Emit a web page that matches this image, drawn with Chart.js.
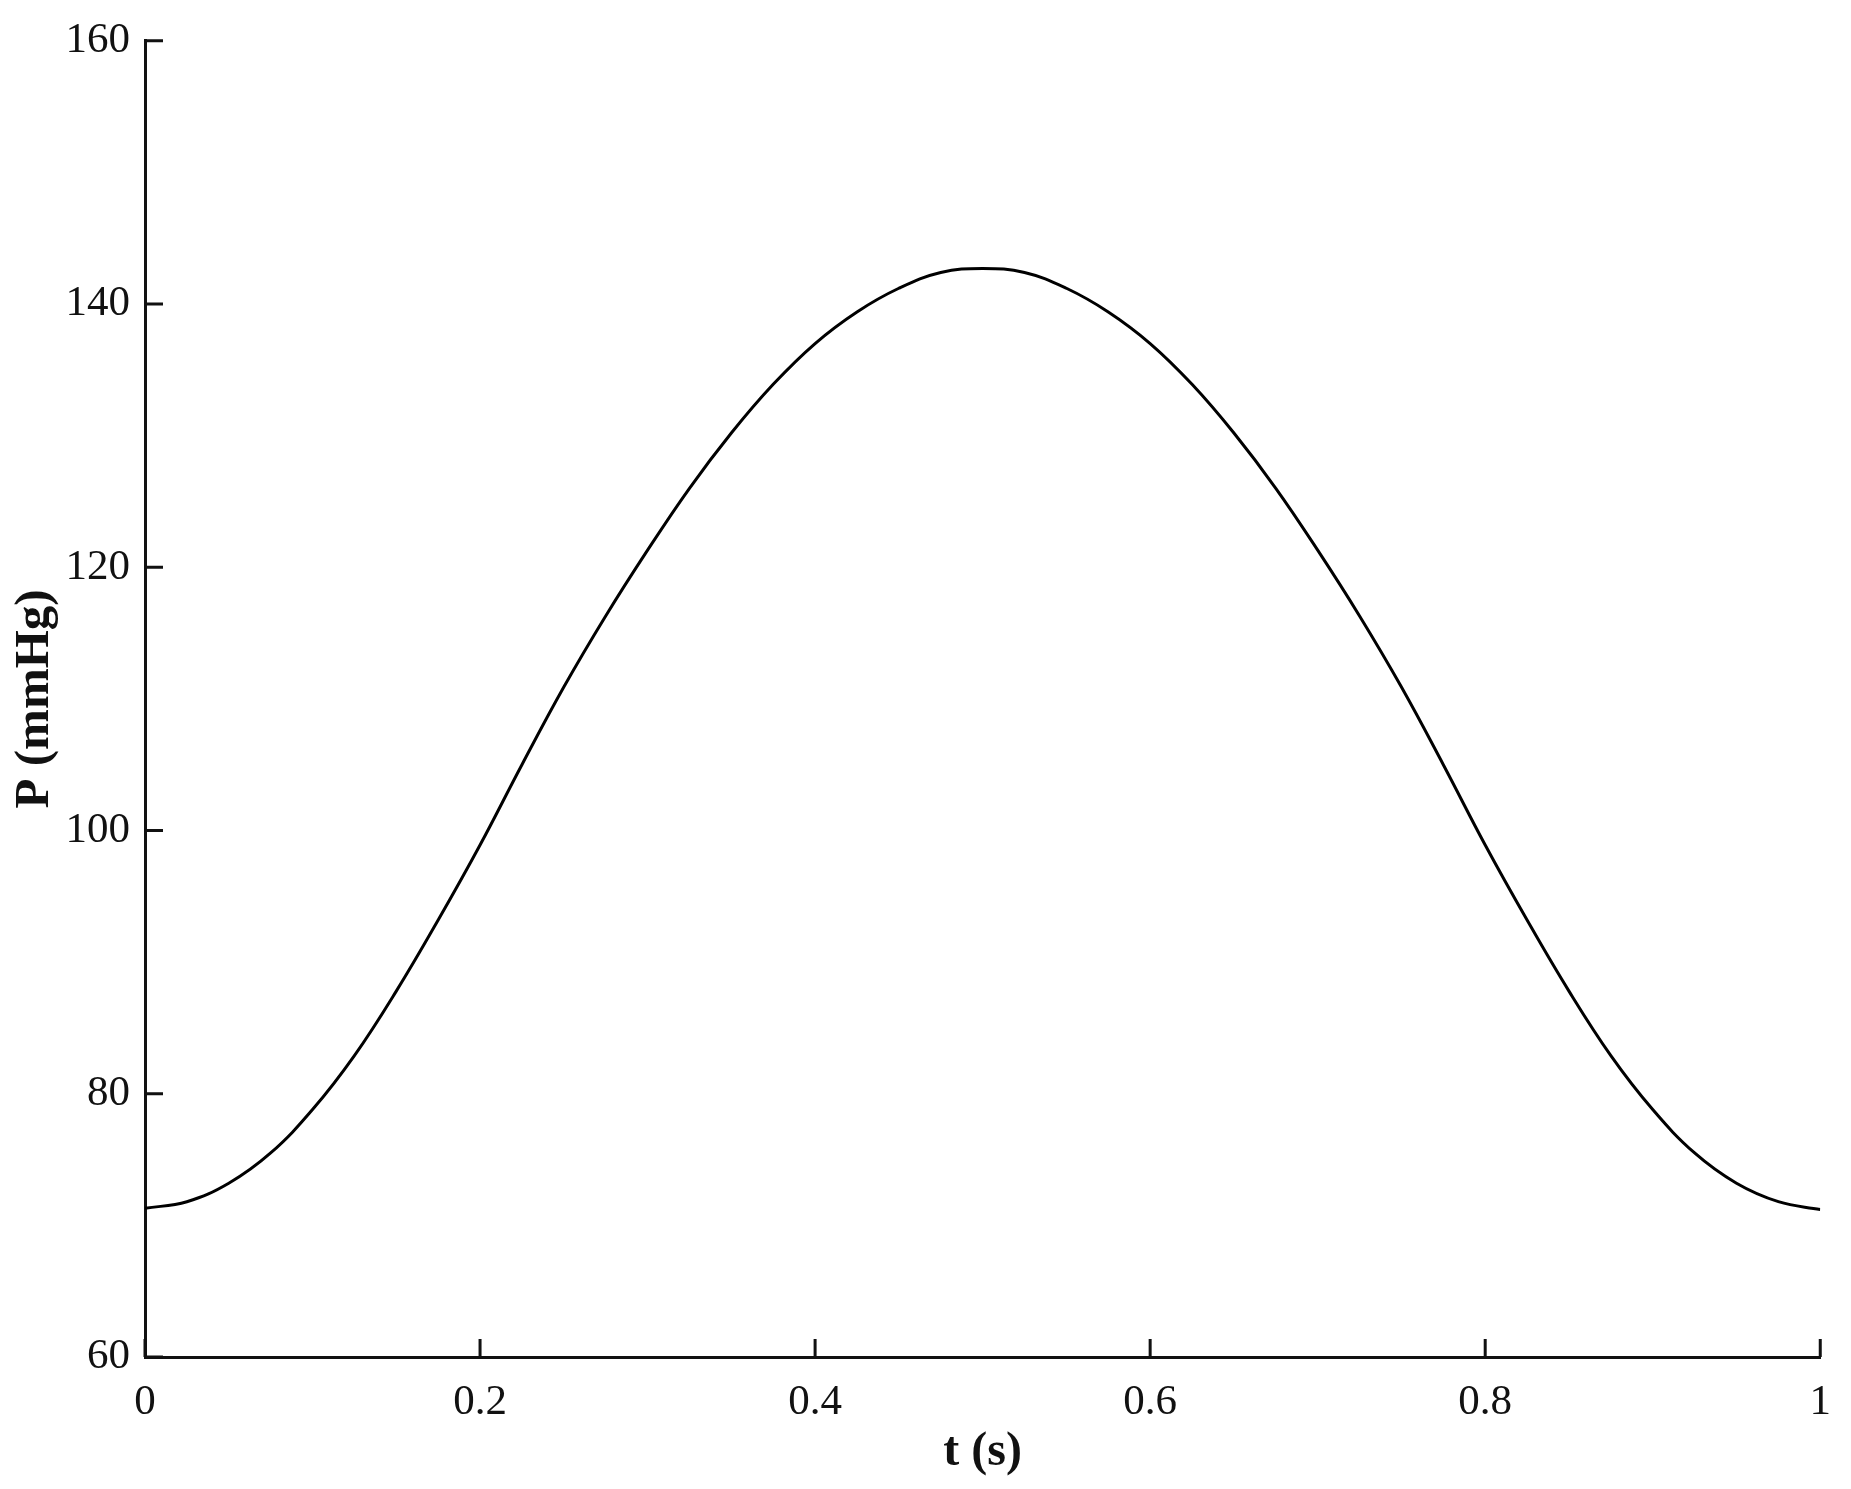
<!DOCTYPE html>
<html>
<head>
<meta charset="utf-8">
<script src="https://cdn.jsdelivr.net/npm/chart.js@4"></script>
<style>
  html, body { margin: 0; padding: 0; background: #fff; }
  #wrap { width: 1851px; height: 1489px; }
</style>
</head>
<body>
<div id="wrap"><canvas id="pressureChart"></canvas></div>
<script>
// time (s) and pressure (mmHg)
var timeValues = [0, 0.025, 0.05, 0.075, 0.1, 0.125, 0.15, 0.175, 0.2, 0.225, 0.25, 0.275, 0.3, 0.325, 0.35, 0.375, 0.4, 0.425, 0.45, 0.475,
                  0.5, 0.525, 0.55, 0.575, 0.6, 0.625, 0.65, 0.675, 0.7, 0.725, 0.75, 0.775, 0.8, 0.825, 0.85, 0.875, 0.9, 0.925, 0.95, 0.975, 1];
var pressureValues = [71.3, 71.8, 73.2, 75.5, 78.8, 82.9, 87.8, 93.2, 98.9, 105.0, 110.9, 116.3, 121.3, 126.0, 130.2, 133.9, 137.0, 139.4, 141.2, 142.4,
                      142.7, 142.4, 141.2, 139.4, 137.0, 133.9, 130.2, 126.0, 121.3, 116.3, 110.9, 105.0, 98.9, 93.2, 87.8, 82.9, 78.8, 75.5, 73.2, 71.8, 71.2];
var xTicks = [0, 0.2, 0.4, 0.6, 0.8, 1];
var yTicks = [60, 80, 100, 120, 140, 160];

var serif = '"Liberation Serif", "DejaVu Serif", serif';

// inward tick marks, like the original figure
var innerTicks = {
    id: 'innerTicks',
    afterDraw: function(chart) {
        var ctx = chart.ctx, area = chart.chartArea;
        var xs = chart.scales.x, ys = chart.scales.y;
        ctx.save();
        ctx.strokeStyle = '#111';
        ctx.lineWidth = 3;
        ctx.beginPath();
        yTicks.forEach(function(v) {
            var py = ys.getPixelForValue(v);
            ctx.moveTo(area.left, py);
            ctx.lineTo(area.left + 18, py);
        });
        xTicks.forEach(function(v) {
            var px = xs.getPixelForValue(v);
            ctx.moveTo(px, area.bottom);
            ctx.lineTo(px, area.bottom - 18);
        });
        ctx.stroke();
        ctx.restore();
    }
};

var chart = new Chart(document.getElementById('pressureChart'), {
    type: 'line',
    data: {
        datasets: [{
            label: 'P',
            data: timeValues.map(function(t, i) { return {x: t, y: pressureValues[i]}; }),
            borderColor: '#000',
            borderWidth: 3,
            pointRadius: 0,
            fill: false,
            tension: 0.4
        }]
    },
    options: {
        responsive: true,
        maintainAspectRatio: false,
        animation: false,
        layout: { padding: { top: 37, right: 22, left: 0, bottom: 0 } },
        plugins: {
            legend: { display: false },
            tooltip: { enabled: false }
        },
        scales: {
            x: {
                type: 'linear',
                min: 0,
                max: 1,
                afterBuildTicks: function(s) { s.ticks = xTicks.map(function(v) { return {value: v}; }); },
                afterFit: function(s) { s.height = 132; },
                grid: { display: false, drawTicks: false },
                border: { display: true, color: '#111', width: 3 },
                ticks: {
                    padding: 20,
                    color: '#111',
                    font: { family: serif, size: 43 },
                    maxRotation: 0,
                    callback: function(v) { return String(v); }
                },
                title: {
                    display: true,
                    text: 't (s)',
                    color: '#111',
                    font: { family: serif, size: 48, weight: 'bold' },
                    padding: { top: 0, bottom: 8 }
                }
            },
            y: {
                min: 60,
                max: 160,
                afterBuildTicks: function(s) { s.ticks = yTicks.map(function(v) { return {value: v}; }); },
                afterFit: function(s) { s.width = 145; },
                grid: { display: false, drawTicks: false },
                border: { display: true, color: '#111', width: 3 },
                ticks: {
                    padding: 15,
                    color: '#111',
                    font: { family: serif, size: 43 }
                },
                title: {
                    display: true,
                    text: 'P (mmHg)',
                    color: '#111',
                    font: { family: serif, size: 49, weight: 'bold' },
                    padding: { top: 6, bottom: 0 }
                }
            }
        }
    },
    plugins: [innerTicks]
});
</script>
</body>
</html>
